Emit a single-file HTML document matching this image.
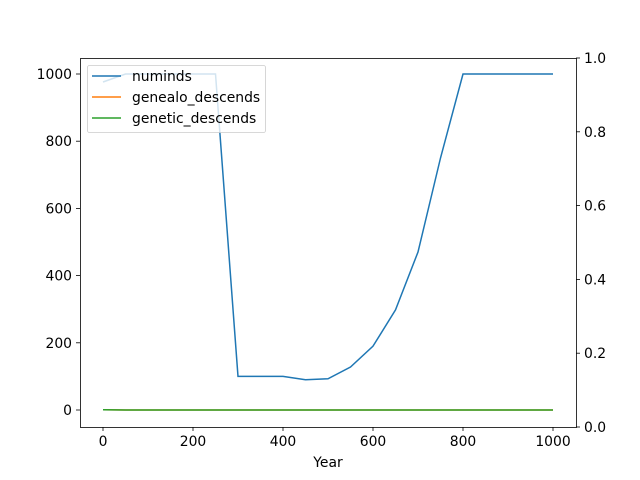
<!DOCTYPE html>
<html><head><style>body{margin:0;background:#fff}svg{display:block}text{font-family:"DejaVu Sans","Liberation Sans",sans-serif;font-size:13.9px;fill:#000}</style></head><body>
<svg width="640" height="480" viewBox="0 0 640 480">
<rect width="640" height="480" fill="#fff"/>
<polyline fill="none" stroke="#1f77b4" stroke-width="1.5" points="103,82 125.5,74 215.5,74 238,376.4 283,376.4 305.5,379.8 328,378.8 350.5,367 373,346.2 395.5,309.9 418,252 440.5,158 463,74 553,74"/>
<polyline fill="none" stroke="#ff7f0e" stroke-width="1.5" points="103,409.7 125.5,410 553,410"/>
<polyline fill="none" stroke="#2ca02c" stroke-width="1.5" points="103,409.7 125.5,410 553,410"/>
<rect x="80.5" y="58.5" width="496" height="369" fill="none" stroke="#000" stroke-width="0.8"/>
<g stroke="#000" stroke-width="0.8">
<line x1="103" y1="427" x2="103" y2="431"/><line x1="193" y1="427" x2="193" y2="431"/><line x1="283" y1="427" x2="283" y2="431"/><line x1="373" y1="427" x2="373" y2="431"/><line x1="463" y1="427" x2="463" y2="431"/><line x1="553" y1="427" x2="553" y2="431"/>
<line x1="76" y1="410" x2="80" y2="410"/><line x1="76" y1="342.8" x2="80" y2="342.8"/><line x1="76" y1="275.6" x2="80" y2="275.6"/><line x1="76" y1="208.4" x2="80" y2="208.4"/><line x1="76" y1="141.2" x2="80" y2="141.2"/><line x1="76" y1="74" x2="80" y2="74"/>
<line x1="576" y1="427" x2="580" y2="427"/><line x1="576" y1="353.2" x2="580" y2="353.2"/><line x1="576" y1="279.4" x2="580" y2="279.4"/><line x1="576" y1="205.6" x2="580" y2="205.6"/><line x1="576" y1="131.8" x2="580" y2="131.8"/><line x1="576" y1="58" x2="580" y2="58"/>
</g>
<g text-anchor="middle">
<text x="103" y="446">0</text><text x="193" y="446">200</text><text x="283" y="446">400</text><text x="373" y="446">600</text><text x="463" y="446">800</text><text x="553" y="446">1000</text>
<text x="328" y="467">Year</text>
</g>
<g text-anchor="end">
<text x="72" y="415">0</text><text x="72" y="347.8">200</text><text x="72" y="280.6">400</text><text x="72" y="213.4">600</text><text x="72" y="146.2">800</text><text x="72" y="79">1000</text>
</g>
<g>
<text x="584" y="432">0.0</text><text x="584" y="358.2">0.2</text><text x="584" y="284.4">0.4</text><text x="584" y="210.6">0.6</text><text x="584" y="136.8">0.8</text><text x="584" y="63">1.0</text>
</g>
<rect x="87.5" y="65.5" width="178" height="67" rx="2" fill="#fff" fill-opacity="0.8" stroke="#ccc" stroke-width="0.8"/>
<line x1="92" y1="76" x2="121" y2="76" stroke="#1f77b4" stroke-width="1.5"/>
<line x1="92" y1="97" x2="121" y2="97" stroke="#ff7f0e" stroke-width="1.5"/>
<line x1="92" y1="118" x2="121" y2="118" stroke="#2ca02c" stroke-width="1.5"/>
<text x="132" y="81">numinds</text>
<text x="132" y="102">genealo_descends</text>
<text x="132" y="123">genetic_descends</text>
</svg>
</body></html>
